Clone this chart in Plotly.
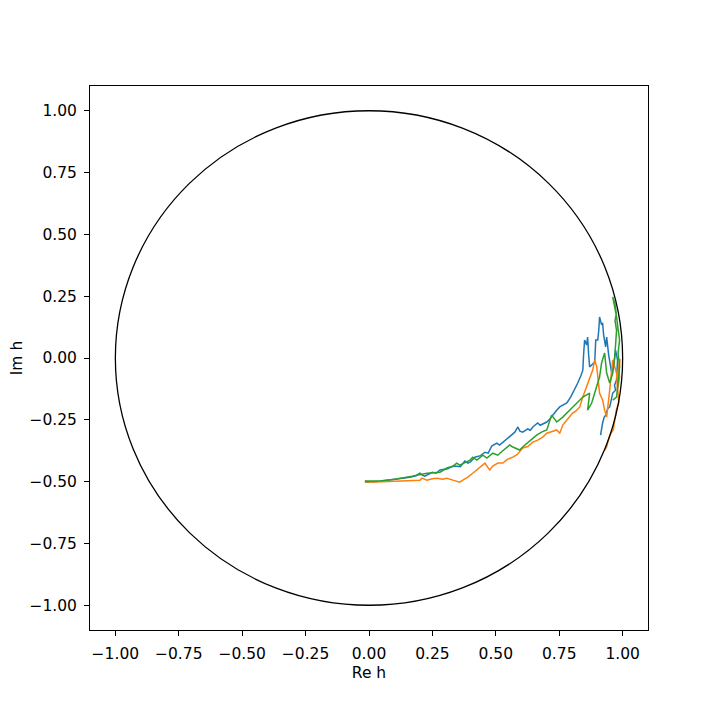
import plotly.graph_objects as go

# paths of h in the unit disk
blue_re = [0.0, -0.016, 0.020, 0.043, 0.070, 0.102, 0.130, 0.161, 0.185, 0.201, 0.210, 0.220, 0.250, 0.265, 0.280,
           0.310, 0.325, 0.339, 0.360, 0.378, 0.390, 0.400, 0.417, 0.440, 0.457, 0.470, 0.484, 0.504, 0.515, 0.528,
           0.540, 0.555, 0.575, 0.587, 0.595, 0.606, 0.626, 0.636, 0.646, 0.665, 0.675, 0.685, 0.701, 0.712, 0.724,
           0.740, 0.752, 0.768, 0.780, 0.795, 0.803, 0.815, 0.823, 0.835, 0.843, 0.846, 0.850, 0.858, 0.862, 0.866,
           0.870, 0.882, 0.890, 0.894, 0.902, 0.906, 0.909, 0.917, 0.921, 0.925, 0.929, 0.933, 0.937, 0.945, 0.957,
           0.965, 0.972, 0.980, 0.976, 0.968, 0.972, 0.961, 0.955, 0.949, 0.941, 0.933, 0.927, 0.921, 0.913]
blue_im = [-0.500, -0.498, -0.500, -0.498, -0.494, -0.490, -0.488, -0.482, -0.476, -0.466, -0.474, -0.478, -0.462, -0.466, -0.453,
           -0.448, -0.440, -0.437, -0.440, -0.417, -0.425, -0.420, -0.401, -0.395, -0.381, -0.385, -0.356, -0.344, -0.352, -0.340,
           -0.332, -0.316, -0.300, -0.279, -0.296, -0.300, -0.287, -0.292, -0.279, -0.263, -0.272, -0.267, -0.259, -0.248, -0.231,
           -0.211, -0.198, -0.190, -0.182, -0.158, -0.142, -0.121, -0.101, -0.073, -0.049, 0.012, 0.073, 0.053, 0.085, 0.012,
           -0.036, -0.024, -0.016, 0.073, 0.073, 0.113, 0.166, 0.134, 0.142, 0.093, 0.073, 0.045, 0.085, 0.012, -0.061,
           -0.028, 0.032, -0.008, -0.089, -0.110, -0.130, -0.142, -0.170, -0.198, -0.205, -0.231, -0.240, -0.263, -0.312]

orange_re = [0.0, -0.016, 0.050, 0.102, 0.150, 0.201, 0.209, 0.228, 0.250, 0.268, 0.290, 0.307, 0.331, 0.358, 0.370,
             0.390, 0.409, 0.425, 0.440, 0.457, 0.465, 0.476, 0.488, 0.508, 0.528, 0.545, 0.567, 0.585, 0.606, 0.626,
             0.646, 0.665, 0.685, 0.701, 0.713, 0.740, 0.752, 0.764, 0.780, 0.803, 0.815, 0.831, 0.843, 0.858, 0.870,
             0.882, 0.890, 0.898, 0.909, 0.921, 0.929, 0.937, 0.949, 0.957, 0.961, 0.976, 0.980, 0.988, 0.984, 0.990,
             0.980, 0.985, 0.975, 0.969, 0.963, 0.957, 0.947, 0.937, 0.929]
orange_im = [-0.500, -0.502, -0.500, -0.498, -0.496, -0.494, -0.486, -0.494, -0.488, -0.486, -0.490, -0.486, -0.494, -0.502, -0.494,
             -0.482, -0.466, -0.453, -0.440, -0.425, -0.437, -0.453, -0.437, -0.425, -0.425, -0.410, -0.401, -0.390, -0.364, -0.358,
             -0.340, -0.332, -0.320, -0.304, -0.300, -0.291, -0.304, -0.271, -0.251, -0.223, -0.215, -0.198, -0.158, -0.117, -0.077,
             -0.049, -0.008, -0.036, -0.142, -0.170, -0.211, -0.239, -0.130, -0.049, -0.008, -0.061, -0.130, -0.077, -0.040, -0.004,
             -0.120, -0.182, -0.210, -0.250, -0.291, -0.300, -0.320, -0.360, -0.372]

green_re = [0.0, -0.016, 0.050, 0.102, 0.170, 0.228, 0.280, 0.307, 0.330, 0.346, 0.358, 0.398, 0.409, 0.425, 0.449,
            0.465, 0.488, 0.508, 0.516, 0.535, 0.555, 0.567, 0.594, 0.610, 0.622, 0.640, 0.661, 0.680, 0.701, 0.720,
            0.740, 0.764, 0.791, 0.819, 0.843, 0.870, 0.862, 0.878, 0.898, 0.909, 0.917, 0.929, 0.937, 0.949, 0.961,
            0.969, 0.976, 0.970, 0.975, 0.969, 0.961, 0.970, 0.976, 0.983, 0.988, 0.982, 0.988, 0.976, 0.961]
green_im = [-0.500, -0.498, -0.496, -0.490, -0.478, -0.466, -0.462, -0.445, -0.438, -0.425, -0.433, -0.413, -0.401, -0.413, -0.393,
            -0.405, -0.385, -0.393, -0.385, -0.368, -0.352, -0.360, -0.372, -0.356, -0.344, -0.330, -0.312, -0.300, -0.291, -0.231,
            -0.259, -0.239, -0.211, -0.182, -0.158, -0.142, -0.211, -0.182, -0.117, -0.077, -0.020, 0.020, -0.061, -0.101, -0.061,
            0.004, 0.113, 0.150, 0.180, 0.223, 0.247, 0.200, 0.166, 0.110, 0.073, 0.020, -0.036, -0.158, -0.170]

tick_vals = [-1.0, -0.75, -0.5, -0.25, 0.0, 0.25, 0.5, 0.75, 1.0]
tick_text = ["\u22121.00", "\u22120.75", "\u22120.50", "\u22120.25", "0.00", "0.25", "0.50", "0.75", "1.00"]

fig = go.Figure()
for xs, ys, c in [(blue_re, blue_im, "#1f77b4"), (orange_re, orange_im, "#ff7f0e"), (green_re, green_im, "#2ca02c")]:
    fig.add_trace(go.Scatter(x=xs, y=ys, mode="lines", line=dict(color=c, width=1.5)))

# unit circle
fig.add_shape(type="circle", xref="x", yref="y", x0=-1, y0=-1, x1=1, y1=1,
              line=dict(color="black", width=1.3))

axis = dict(range=[-1.1, 1.1], tickvals=tick_vals, ticktext=tick_text, showgrid=False, zeroline=False,
            showline=True, linecolor="black", linewidth=1, mirror=True, automargin=False,
            ticks="outside", ticklen=5, tickcolor="black", ticklabelstandoff=4,
            tickfont=dict(size=15.5, color="black"))

# page body adds an 8px offset, so margins are shifted to land the axes where the reference has them
fig.update_layout(
    width=720, height=720, margin=dict(l=82, r=80, t=78, b=98),
    plot_bgcolor="white", paper_bgcolor="white", showlegend=False,
    font=dict(family="DejaVu Sans", size=15.5, color="black"),
    xaxis=dict(axis, title=dict(text="Re h", standoff=5, font=dict(size=15.5))),
    yaxis=dict(axis, title=dict(text="Im h", standoff=6, font=dict(size=15.5))),
)

fig.write_html("out.html")
